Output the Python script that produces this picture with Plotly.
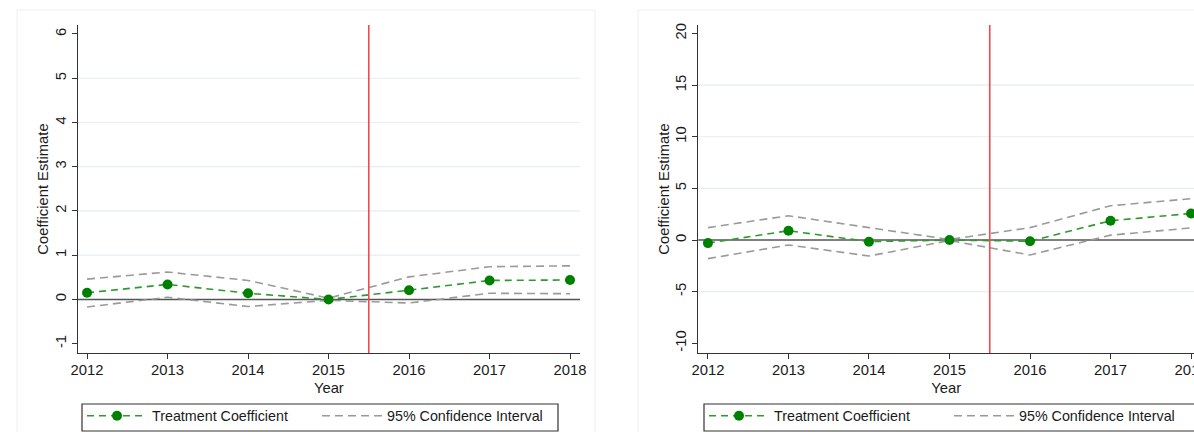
import plotly.graph_objects as go

# Event-study years
years = [2012, 2013, 2014, 2015, 2016, 2017, 2018]

# Left panel: treatment coefficients and 95% confidence bounds
coef_a = [0.15, 0.34, 0.14, 0.00, 0.21, 0.43, 0.44]
upper_a = [0.46, 0.62, 0.43, 0.03, 0.51, 0.74, 0.76]
lower_a = [-0.17, 0.05, -0.16, -0.02, -0.08, 0.14, 0.13]

# Right panel: treatment coefficients and 95% confidence bounds
coef_b = [-0.30, 0.90, -0.16, 0.00, -0.12, 1.87, 2.57]
upper_b = [1.20, 2.35, 1.20, 0.05, 1.20, 3.32, 4.00]
lower_b = [-1.80, -0.48, -1.55, -0.05, -1.45, 0.47, 1.17]

# Axis ticks and interior grid levels
yticks_a = [-1, 0, 1, 2, 3, 4, 5, 6]
yticks_b = [-10, -5, 0, 5, 10, 15, 20]
grid_a = [1, 2, 3, 4, 5]
grid_b = [-5, 5, 10, 15]
policy_line = 2015.5

W, H = 1194, 432
FONT = "Liberation Sans, Arial, sans-serif"
GREEN = "#008000"
GREEN_LINE = "#2e9a2e"
GRAY = "#9a9a9a"
AXIS = "#333333"
GRID = "#e6eef0"
RED = "#f04a4a"
TXT = "#1a1a1a"
FS_TICK = 14.8
FS_LEG = 14.3

fig = go.Figure()


def add_panel(xa, ya, legend, coef, upper, lower):
    ci_style = dict(color=GRAY, width=1.6, dash="8px,5px")
    fig.add_trace(go.Scatter(
        x=years, y=upper, mode="lines", line=ci_style,
        name="95% Confidence Interval", legend=legend, legendrank=2,
        xaxis=xa, yaxis=ya, hoverinfo="skip"))
    fig.add_trace(go.Scatter(
        x=years, y=lower, mode="lines", line=ci_style,
        name="95% Confidence Interval", showlegend=False,
        xaxis=xa, yaxis=ya, hoverinfo="skip"))
    fig.add_trace(go.Scatter(
        x=years, y=coef, mode="lines+markers",
        line=dict(color=GREEN_LINE, width=1.6, dash="7px,5px"),
        marker=dict(color=GREEN, size=10, symbol="circle"),
        name="Treatment Coefficient", legend=legend, legendrank=1,
        xaxis=xa, yaxis=ya))


add_panel("x", "y", "legend", coef_a, upper_a, lower_a)
add_panel("x2", "y2", "legend2", coef_b, upper_b, lower_b)

shapes = []
for yref, xref, grid in (("y", "x", grid_a), ("y2", "x2", grid_b)):
    for g in grid:
        shapes.append(dict(type="line", xref=f"{xref} domain", yref=yref,
                           x0=0, x1=1, y0=g, y1=g,
                           line=dict(color=GRID, width=1.2), layer="below"))
    # reference line at zero
    shapes.append(dict(type="line", xref=f"{xref} domain", yref=yref,
                       x0=0, x1=1, y0=0, y1=0,
                       line=dict(color="#555555", width=1.4), layer="below"))
    # treatment timing
    shapes.append(dict(type="line", xref=xref, yref=f"{yref} domain",
                       x0=policy_line, x1=policy_line, y0=0, y1=1,
                       line=dict(color=RED, width=1.6), layer="above"))

# faint graph-region outlines
shapes.append(dict(type="rect", xref="paper", yref="paper",
                   x0=17 / W, x1=595 / W, y0=-0.05, y1=1 - 10 / H,
                   line=dict(color="#eeeeee", width=1), layer="below"))
shapes.append(dict(type="rect", xref="paper", yref="paper",
                   x0=638 / W, x1=1.05, y0=-0.05, y1=1 - 10 / H,
                   line=dict(color="#eeeeee", width=1), layer="below"))

# legend frames
for x0, x1 in ((82, 558), (704, 1205)):
    shapes.append(dict(type="rect", xref="paper", yref="paper",
                       x0=x0 / W, x1=x1 / W, y0=1 - 431 / H, y1=1 - 404 / H,
                       line=dict(color=AXIS, width=1.2), fillcolor="rgba(0,0,0,0)",
                       layer="below"))

tick_font = dict(family=FONT, size=FS_TICK, color=TXT)
title_font = dict(family=FONT, size=FS_TICK, color=TXT)

common_x = dict(showline=True, linecolor=AXIS, linewidth=1.3, ticks="outside",
                ticklen=5, tickwidth=1.2, tickcolor=AXIS, tickvals=years,
                ticktext=[str(v) for v in years], automargin=False,
                ticklabelstandoff=-2, ticklabeloverflow="allow",
                showgrid=False, zeroline=False, tickfont=tick_font,
                title=dict(text="Year", font=title_font, standoff=5))
common_y = dict(showline=True, linecolor=AXIS, linewidth=1.3, ticks="outside",
                ticklen=5, tickwidth=1.2, tickcolor=AXIS, tickangle=-90,
                showgrid=False, zeroline=False, tickfont=tick_font, automargin=False,
                title=dict(text="Coefficient Estimate", font=title_font, standoff=0))

y_dom = [1 - 353 / H, 1 - 25 / H]


def legend_box(x_px, entry):
    return dict(orientation="h", x=x_px / W, y=0, xanchor="left", yanchor="bottom",
                borderwidth=0, bgcolor="rgba(0,0,0,0)",
                itemwidth=60, entrywidth=entry, font=dict(family=FONT, size=FS_LEG, color=TXT))


fig.update_layout(
    width=W, height=H,
    margin=dict(l=0, r=0, t=0, b=0),
    paper_bgcolor="white", plot_bgcolor="white",
    font=dict(family=FONT, size=FS_TICK, color=TXT),
    xaxis=dict(common_x, domain=[77.7 / W, 580 / W], range=[2011.884, 2018.124], anchor="y"),
    yaxis=dict(common_y, domain=y_dom, range=[-1.21, 6.203], tickvals=yticks_a,
               ticktext=[str(v) for v in yticks_a], anchor="x"),
    xaxis2=dict(common_x, domain=[698.3 / W, 1.0], range=[2011.88, 2018.037], anchor="y2"),
    yaxis2=dict(common_y, domain=y_dom, range=[-10.94, 20.82], tickvals=yticks_b,
                ticktext=[str(v) for v in yticks_b], anchor="x2"),
    legend=legend_box(82, 160),
    legend2=legend_box(704, 170),
    shapes=shapes,
    showlegend=True,
)

fig.write_html("out.html")
